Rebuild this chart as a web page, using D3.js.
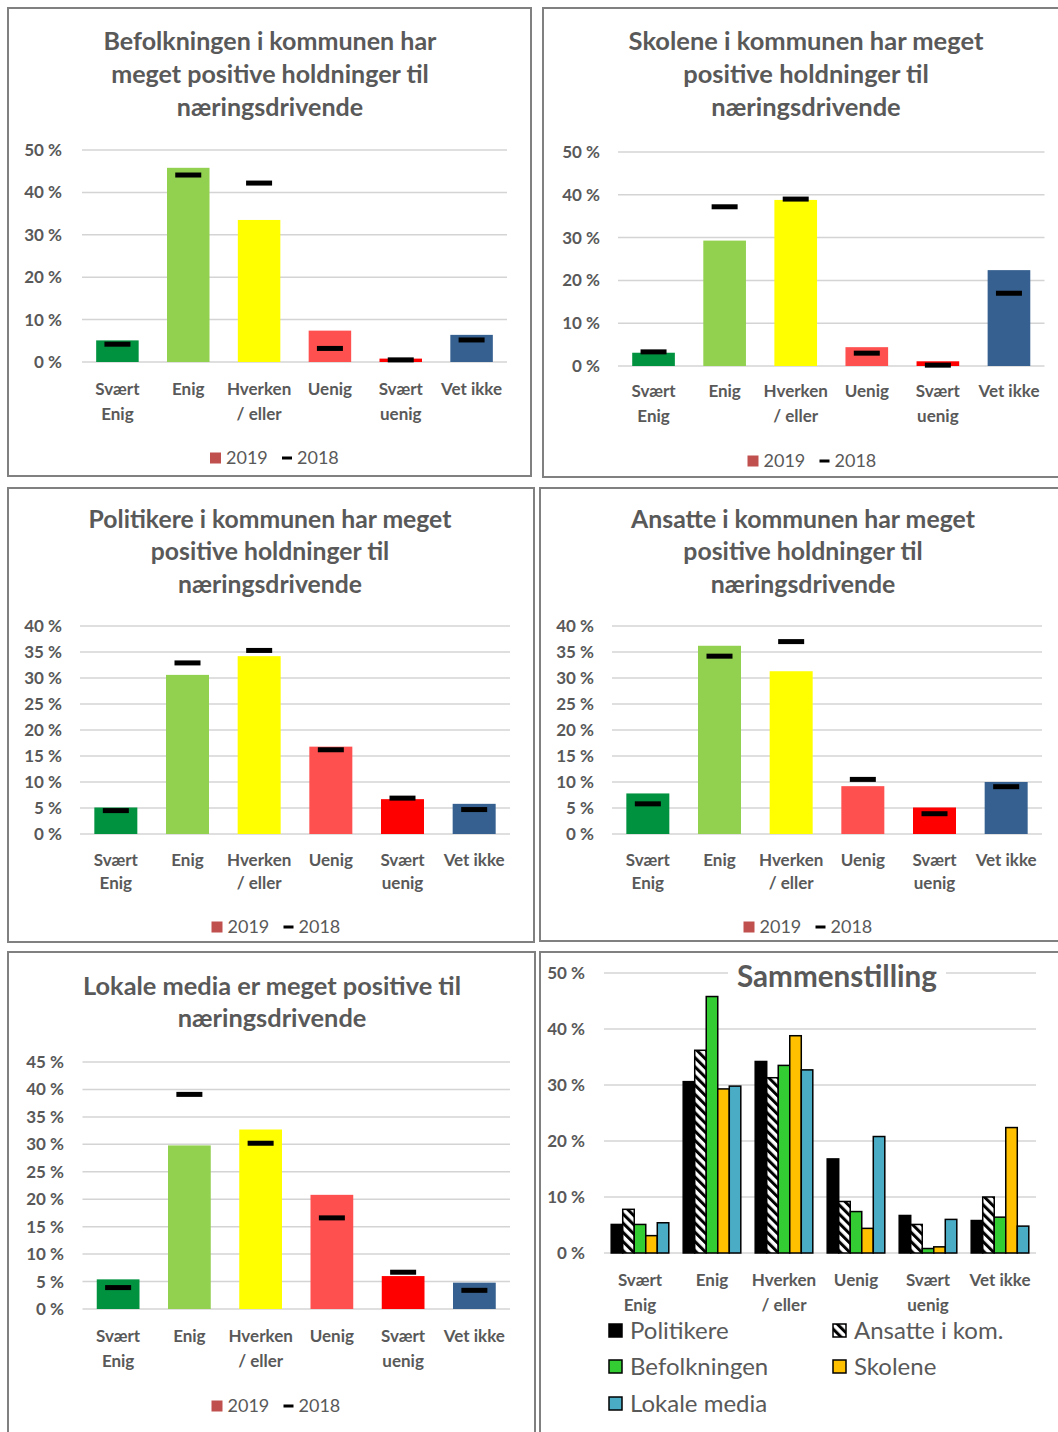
<!DOCTYPE html>
<html><head><meta charset="utf-8">
<script src="https://cdn.jsdelivr.net/npm/d3@7"></script>
<style>
body{margin:0;background:#fff;}
svg{display:block;font-family:Lato,"Open Sans",sans-serif;}
</style>
</head><body>
<svg id="c" width="1058" height="1432"></svg>
<script>
// ---------- DATA ----------
const categories = ["Svært Enig","Enig","Hverken / eller","Uenig","Svært uenig","Vet ikke"];
const categoryLines = [["Svært","Enig"],["Enig"],["Hverken","/ eller"],["Uenig"],["Svært","uenig"],["Vet ikke"]];
const categoryColors = ["#00923F","#92D050","#FFFF00","#FF5050","#FF0000","#35608F"];
const yearLabels = ["2019","2018"];

const befolkning2019 = [5.1, 45.8, 33.5, 7.4, 0.8, 6.4];
const befolkning2018 = [4.2, 44.1, 42.2, 3.2, 0.5, 5.2];
const skolene2019    = [3.1, 29.3, 38.8, 4.4, 1.1, 22.4];
const skolene2018    = [3.3, 37.2, 39.0, 3.0, 0.2, 17.0];
const politikere2019 = [5.1, 30.6, 34.2, 16.8, 6.7, 5.8];
const politikere2018 = [4.5, 32.9, 35.3, 16.2, 6.9, 4.7];
const ansatte2019    = [7.8, 36.2, 31.3, 9.2, 5.1, 10.0];
const ansatte2018    = [5.8, 34.2, 37.0, 10.5, 3.9, 9.1];
const media2019      = [5.4, 29.8, 32.7, 20.8, 6.0, 4.8];
const media2018      = [3.9, 39.1, 30.2, 16.6, 6.7, 3.4];

const comparisonSeries = ["Politikere","Ansatte i kom.","Befolkningen","Skolene","Lokale media"];
const comparisonData = [politikere2019, ansatte2019, befolkning2019, skolene2019, media2019];
const comparisonColors = ["#000000","url(#hatch)","#33CC33","#FFC000","#4BACC6"];

// ---------- PANELS ----------
const panels = [
  {box:[8,8,531,476], title:["Befolkningen i kommunen har","meget positive holdninger til","næringsdrivende"], titleW:333,
   titleX:270, titleY:[50,83,116], xr:[82,507], y0:362, yTop:150, max:50, step:10, labelRight:62,
   xlY:[395,420], legY:458, legX:274.5, v19:befolkning2019, v18:befolkning2018},
  {box:[543,8,1070,477], title:["Skolene i kommunen har meget","positive holdninger til","næringsdrivende"], titleW:355,
   titleX:806, titleY:[50,83,116], xr:[618,1044.5], y0:366, yTop:152, max:50, step:10, labelRight:600,
   xlY:[397,422], legY:461, legX:812, v19:skolene2019, v18:skolene2018},
  {box:[8,488,534,942], title:["Politikere i kommunen har meget","positive holdninger til","næringsdrivende"], titleW:363,
   titleX:270, titleY:[528,560,593], xr:[80,510], y0:834, yTop:626, max:40, step:5, labelRight:62,
   xlY:[866,889], legY:927, legX:276, v19:politikere2019, v18:politikere2018},
  {box:[540,488,1070,941], title:["Ansatte i kommunen har meget","positive holdninger til","næringsdrivende"], titleW:344,
   titleX:803, titleY:[528,560,593], xr:[612,1042], y0:834, yTop:626, max:40, step:5, labelRight:594,
   xlY:[866,889], legY:927, legX:808, v19:ansatte2019, v18:ansatte2018},
  {box:[8,952,535,1450], title:["Lokale media er meget positive til","næringsdrivende"], titleW:378,
   titleX:272, titleY:[995,1027], xr:[82.5,510], y0:1309, yTop:1062, max:45, step:5, labelRight:64,
   xlY:[1342,1367], legY:1406, legX:276, v19:media2019, v18:media2018}
];

const svg = d3.select("#c");
const TXT = "#595959";
const defs = svg.append("defs");
const pat = defs.append("pattern").attr("id","hatch").attr("patternUnits","userSpaceOnUse")
  .attr("width",6.5).attr("height",6.5).attr("patternTransform","rotate(-45)");
pat.append("rect").attr("width",6.5).attr("height",6.5).attr("fill","#fff");
pat.append("rect").attr("x",0).attr("width",3).attr("height",6.5).attr("fill","#000");

function frame(g, b){
  g.append("rect").attr("x",b[0]).attr("y",b[1]).attr("width",b[2]-b[0]).attr("height",b[3]-b[1])
    .attr("fill","#fff").attr("stroke","#808080").attr("stroke-width",2);
}

function yAxis(g, p, y){
  const ticks = d3.range(0, p.max + p.step/2, p.step);
  g.append("g").selectAll("line").data(ticks).join("line")
    .attr("x1",p.xr[0]).attr("x2",p.xr[1]).attr("y1",d=>y(d)).attr("y2",d=>y(d))
    .attr("stroke","#d4d4d4").attr("stroke-width",1.5);
  const ax = g.append("g").attr("transform",`translate(${p.xr[0]},0)`)
    .call(d3.axisLeft(y).tickValues(ticks).tickSize(0).tickPadding(p.xr[0]-p.labelRight).tickFormat(d=>d+" %"));
  ax.select(".domain").remove();
  ax.selectAll("text").attr("fill",TXT).attr("font-size",17).attr("font-weight","bold")
    .attr("font-family","Lato,'Open Sans',sans-serif");
}

function xLabels(g, p, x){
  const t = g.append("g").selectAll("text").data(categories).join("text")
    .attr("text-anchor","middle").attr("fill",TXT).attr("font-size",17).attr("font-weight","bold");
  t.each(function(c,i){
    const s = d3.select(this);
    categoryLines[i].forEach((ln,k)=>{
      s.append("tspan").attr("x",x(c)+x.bandwidth()/2).attr("y",p.xlY[k]).text(ln);
    });
  });
}

function fitTitle(t, target){
  const first = t.select("tspan").node();
  const w = first.getComputedTextLength();
  const fs = parseFloat(t.attr("font-size"));
  t.attr("font-size", fs*target/w);
}

panels.forEach(p=>{
  const g = svg.append("g");
  frame(g, p.box);
  const t = g.append("text").attr("text-anchor","middle").attr("fill",TXT).attr("font-weight","bold").attr("font-size",22);
  p.title.forEach((ln,i)=>t.append("tspan").attr("x",p.titleX).attr("y",p.titleY[i]).text(ln));
  fitTitle(t, p.titleW);

  const x = d3.scaleBand().domain(categories).range(p.xr).paddingInner(0.4).paddingOuter(0.2);
  const y = d3.scaleLinear().domain([0,p.max]).range([p.y0,p.yTop]);
  yAxis(g, p, y);

  g.append("g").selectAll("rect").data(p.v19).join("rect")
    .attr("x",(d,i)=>x(categories[i])).attr("width",x.bandwidth())
    .attr("y",d=>y(d)).attr("height",d=>y(0)-y(d))
    .attr("fill",(d,i)=>categoryColors[i]);
  const mw = 26, mh = 5;
  g.append("g").selectAll("rect").data(p.v18).join("rect")
    .attr("x",(d,i)=>x(categories[i])+x.bandwidth()/2-mw/2).attr("width",mw)
    .attr("y",d=>y(d)-mh/2).attr("height",mh).attr("fill","#000");

  xLabels(g, p, x);

  // legend
  const L = p.legX - 64.5;
  const lg = g.append("g").attr("transform",`translate(${L},${p.legY})`);
  lg.append("rect").attr("x",0).attr("y",-5.5).attr("width",11).attr("height",11).attr("fill","#C0504D");
  lg.append("text").attr("x",16).attr("y",6).attr("fill",TXT).attr("font-size",18).text(yearLabels[0]);
  lg.append("rect").attr("x",72).attr("y",-1.5).attr("width",10).attr("height",3).attr("fill","#000");
  lg.append("text").attr("x",87).attr("y",6).attr("fill",TXT).attr("font-size",18).text(yearLabels[1]);
});

// ---------- COMPARISON PANEL ----------
(function(){
  const p = {box:[540,952,1070,1450], xr:[604,1036], y0:1253, yTop:973, max:50, step:10, labelRight:585, xlY:[1286,1311]};
  const g = svg.append("g");
  frame(g, p.box);
  const y = d3.scaleLinear().domain([0,p.max]).range([p.y0,p.yTop]);
  yAxis(g, p, y);
  const x0 = d3.scaleBand().domain(categories).range(p.xr).paddingInner(0.2).paddingOuter(0.1);
  const x1 = d3.scaleBand().domain(comparisonSeries).range([0,x0.bandwidth()]);

  // title with white knock-out
  g.append("rect").attr("x",728).attr("y",962).attr("width",218).attr("height",34).attr("fill","#fff");
  const tt = g.append("text").attr("x",837).attr("y",987).attr("text-anchor","middle").attr("fill",TXT)
    .attr("font-weight","bold").attr("font-size",26);
  tt.append("tspan").attr("x",837).attr("y",987).text("Sammenstilling");
  fitTitle(tt, 200);

  const grp = g.append("g").selectAll("g").data(categories).join("g")
    .attr("transform",c=>`translate(${x0(c)},0)`);
  grp.selectAll("rect").data((c,i)=>comparisonSeries.map((s,k)=>({s, v:comparisonData[k][i], k})))
    .join("rect")
    .attr("x",d=>x1(d.s)).attr("width",x1.bandwidth())
    .attr("y",d=>y(d.v)).attr("height",d=>y(0)-y(d.v))
    .attr("fill",d=>comparisonColors[d.k]).attr("stroke","#000").attr("stroke-width",1.5);

  xLabels(g, p, x0);

  // legend
  const pos = [[608,1330],[832,1330],[608,1366],[832,1366],[608,1403]];
  comparisonSeries.forEach((s,k)=>{
    const lg = g.append("g").attr("transform",`translate(${pos[k][0]},${pos[k][1]})`);
    lg.append("rect").attr("x",1).attr("y",-6).attr("width",13).attr("height",13)
      .attr("fill",comparisonColors[k]).attr("stroke","#000").attr("stroke-width",1.5);
    lg.append("text").attr("x",22).attr("y",8.5).attr("fill",TXT).attr("font-size",24).text(s);
  });
})();
</script>
</body></html>
